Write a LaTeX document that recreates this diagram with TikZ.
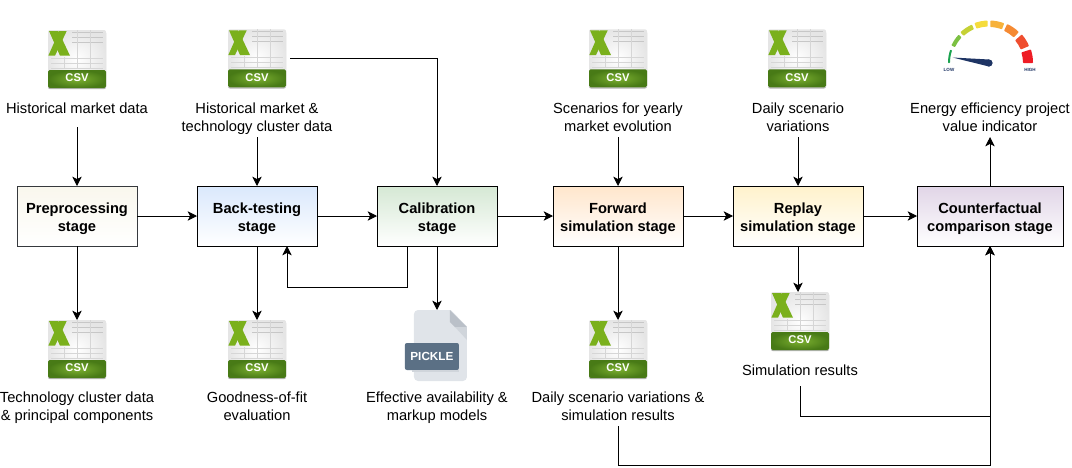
\documentclass[tikz,border=0pt]{standalone}
\usepackage{fontspec}
\setmainfont{Liberation Sans}
\usepackage{xcolor}
\usepackage{tikz}
\usetikzlibrary{
  positioning,
  arrows.meta,
  calc
}
\definecolor{prebg}{RGB}{249,247,237}
\definecolor{preborder}{RGB}{54,57,61}
\definecolor{backbg}{RGB}{218,232,252}
\definecolor{calibbg}{RGB}{213,232,212}
\definecolor{forwardbg}{RGB}{255,230,204}
\definecolor{replaybg}{RGB}{255,242,204}
\definecolor{counterbg}{RGB}{225,213,231}
\definecolor{csvgreen}{RGB}{122,176,28}
\definecolor{bandlight}{RGB}{124,176,48}
\definecolor{banddark}{RGB}{72,122,22}
\definecolor{docbg}{RGB}{224,228,233}
\definecolor{docfold}{RGB}{186,192,200}
\definecolor{docshade}{RGB}{208,213,219}
\definecolor{tagbg}{RGB}{91,112,133}
\definecolor{needlecolor}{RGB}{30,52,100}
\definecolor{gaugea}{RGB}{26,163,79}
\definecolor{gaugeb}{RGB}{124,192,66}
\definecolor{gaugec}{RGB}{197,209,53}
\definecolor{gauged}{RGB}{245,220,60}
\definecolor{gaugee}{RGB}{247,178,59}
\definecolor{gaugef}{RGB}{245,138,51}
\definecolor{gaugeg}{RGB}{239,78,47}
\definecolor{gaugeh}{RGB}{238,28,37}
\newcommand{\csvsheet}[1]{%
  \begin{scope}[shift={(#1.center)}]
    % grid lines of the sheet
    \draw[black!22, line width=0.5pt] (-5,-27) -- (26,-27) (-5,-22) -- (26,-22) (-5,-17) -- (26,-17);
    \draw[black!16, line width=0.5pt] (-26,-1) -- (26,-1) (-26,4) -- (26,4) (-26,9) -- (26,9);
    \draw[black!16, line width=0.5pt] (0,-29) -- (0,10) (13,-29) -- (13,10) (-13,-2) -- (-13,10);
    % the X
    \fill[csvgreen] (-28,-28) -- (-18.7,-28) -- (-7,-3.3) -- (-17,-3.3) -- cycle;
    \fill[csvgreen] (-10.3,-28) -- (-17.7,-28) -- (-28.7,-3.3) -- (-22,-3.3) -- cycle;
    % green band
    \shade[inner color=bandlight, outer color=banddark, rounded corners=1.2pt] (-29,11) rectangle (29,29);
    \node[csvtag] (#1tag) at (0,19) {CSV};
  \end{scope}%
}
\tikzset{
  stagebox/.style={
    draw=black, line width=0.75pt, outer sep=0pt,
    minimum width=90pt, minimum height=45pt,
    font=\fontsize{11}{13.5}\selectfont\bfseries, align=center, inner sep=0pt,
    text height=22.5pt, text depth=0pt
  },
  datatext/.style={
    font=\fontsize{11}{13.5}\selectfont, align=center, outer sep=0pt,
    inner sep=0pt, minimum height=30.75pt,
    text height=21.8pt, text depth=0pt
  },
  singletext/.style={
    datatext, text height=7.5pt
  },
  csvicon/.style={
    minimum size=43.5pt, inner sep=0pt, outer sep=0pt, rounded corners=1.5pt,
    inner color=white, outer color=black!10,
    preaction={fill=black!30, transform canvas={yshift=-0.9pt}}
  },
  csvtag/.style={
    text=white, inner sep=0pt, font=\fontsize{8.4}{9}\selectfont\bfseries
  },
  pickledoc/.style={
    fill=docbg, rounded corners=3pt, inner sep=0pt, outer sep=0pt,
    minimum width=39.75pt, minimum height=53.25pt
  },
  pickletag/.style={
    fill=tagbg, rounded corners=1.5pt, text=white, inner sep=0pt,
    minimum width=40.5pt, minimum height=20.25pt,
    font=\fontsize{8.8}{9}\selectfont\bfseries
  },
  gaugetext/.style={
    text=needlecolor, inner sep=0pt, font=\fontsize{3.4}{4}\selectfont\bfseries
  },
  flowarrow/.style={
    ->, >={Stealth[length=7pt,width=7pt,inset=1.8pt]}, line width=0.75pt, draw=black
  }
}
\begin{document}
\begin{tikzpicture}[x=0.75pt, y=-0.75pt]
    \useasboundingbox (0,0) rectangle (1072,468);

    % Stages
    \node[stagebox, draw=preborder, top color=prebg, bottom color=white] (pre) at (77,216) {Preprocessing\\stage};
    \node[stagebox, top color=backbg, bottom color=white, right=45pt of pre] (back) {Back-testing\\stage};
    \node[stagebox, top color=calibbg, bottom color=white, right=45pt of back] (calib) {Calibration\\stage};
    \node[stagebox, top color=forwardbg, bottom color=white, minimum width=97.5pt, right=42pt of calib] (forward) {Forward\\simulation stage};
    \node[stagebox, top color=replaybg, bottom color=white, minimum width=97.5pt, right=37.5pt of forward] (replay) {Replay\\simulation stage};
    \node[stagebox, top color=counterbg, bottom color=white, minimum width=109.5pt, right=40.5pt of replay] (counter) {Counterfactual\\comparison stage};

    % Inputs above the stages
    \node[singletext, minimum height=28.5pt, above=44.25pt of pre] (histtext) {Historical market data};
    \node[csvicon, above=0.75pt of histtext] (histcsv) {};
    \node[datatext, above=36.75pt of back] (clustertext) {Historical market \&\\technology cluster data};
    \node[csvicon, above=6.5pt of clustertext] (clustercsv) {};
    \node[datatext, above=36.75pt of forward] (yeartext) {Scenarios for yearly\\market evolution};
    \node[csvicon, above=6.5pt of yeartext] (yearcsv) {};
    \node[datatext, above=36.75pt of replay] (daytext) {Daily scenario\\variations};
    \node[csvicon, above=6.5pt of daytext, xshift=-0.75pt] (daycsv) {};
    \node[datatext, above=36.75pt of counter] (valuetext) {Energy efficiency project\\value indicator};

    % Outputs below the stages
    \node[csvicon, below=55.5pt of pre] (comptcsv) {};
    \node[datatext, below=5.5pt of comptcsv] (compttext) {Technology cluster data\\\& principal components};
    \node[csvicon, below=55.5pt of back] (fitcsv) {};
    \node[datatext, below=5.5pt of fitcsv] (fittext) {Goodness-of-fit\\evaluation};
    \node[csvicon, below=55.5pt of forward] (resultcsv) {};
    \node[datatext, below=5.5pt of resultcsv] (resulttext) {Daily scenario variations \&\\simulation results};
    \node[csvicon, below=34.5pt of replay, xshift=1.5pt] (simcsv) {};
    \node[singletext, minimum height=24pt, below=3pt of simcsv] (simtext) {Simulation results};

    % Inside of the CSV icons
    \foreach \icon in {histcsv, clustercsv, yearcsv, daycsv, comptcsv, fitcsv, resultcsv, simcsv} {
      \csvsheet{\icon}
    }

    % Pickle file
    \node[pickledoc, below=48pt of calib, xshift=2.6pt] (pickledoc) {};
    \begin{scope}[shift={(pickledoc.north east)}]
      \fill[white] (-17,-1) -- (1,-1) -- (1,17.5) -- cycle;
      \fill[docfold] (-17,0) -- (0,17) -- (-12,17) -- (-17,12) -- cycle;
      \fill[docshade] (-12,17) -- (0,17) -- (0,30) -- cycle;
    \end{scope}
    \node[pickletag] (picktag) at ([xshift=-6.4pt, yshift=-8.25pt]pickledoc.center) {PICKLE};
    \fill[docshade] (picktag.south west) ++(7,0) rectangle ($(picktag.south east)+(0,2)$);
    \node[datatext] (picktext) at (437,406) {Effective availability \&\\markup models};

    % Gauge
    \begin{scope}[shift={(989,63)}, y=0.75pt]
      \foreach \from/\to/\inner/\outer/\tone in {
        180/161/39/41/gaugea, 155/137/37.5/41.5/gaugeb, 133/114/37/42/gaugec, 110/92/36.5/42.5/gauged,
        88/69/36/42.5/gaugee, 65/46/35.5/43/gaugef, 41/23/34.5/43.5/gaugeg, 18/0/34/44/gaugeh} {
        \fill[\tone, rounded corners=0.5pt] (\from:\outer) arc[start angle=\from, end angle=\to, radius=\outer]
          -- (\to:\inner) arc[start angle=\to, end angle=\from, radius=\inner] -- cycle;
      }
      \fill[needlecolor] (-36.5,5.5) -- (0,-3.5) -- (0,3.5) -- cycle;
      \fill[needlecolor] (0,0) circle[radius=3.6];
    \end{scope}
    \node[gaugetext] (lowtag) at (949,70) {LOW};
    \node[gaugetext] (hightag) at (1030,70) {HIGH};

    % Arrows along the chain
    \draw[flowarrow] (pre) -- (back);
    \draw[flowarrow] (back) -- (calib);
    \draw[flowarrow] (calib) -- (forward);
    \draw[flowarrow] (forward) -- (replay);
    \draw[flowarrow] (replay) -- (counter);

    % Arrows: inputs to stages
    \draw[flowarrow] (histtext.south) -- (pre.north);
    \draw[flowarrow] (clustertext.south) -- (back.north);
    \draw[flowarrow] ([xshift=3pt]clustercsv.east) -| (calib.north);
    \draw[flowarrow] (yeartext.south) -- (forward.north);
    \draw[flowarrow] (daytext.south) -- (replay.north);
    \draw[flowarrow] (counter.north) -- (valuetext.south);

    % Arrows: stages to outputs
    \draw[flowarrow] (pre.south) -- (comptcsv.north);
    \draw[flowarrow] (back.south) -- (fitcsv.north);
    \draw[flowarrow] (calib.south) -- (calib.south |- pickledoc.north);
    \draw[flowarrow] (forward.south) -- (resultcsv.north);
    \draw[flowarrow] (replay.south) -- (replay.south |- simcsv.north);

    % Feedback and result returns
    \draw[flowarrow] ([xshift=-22.5pt]calib.south) -- ++(0,41) -| ([xshift=22.5pt]back.south);
    \draw[flowarrow] (simtext.south) -- ++(0,30) -| (counter.south);
    \draw[flowarrow] (resulttext.south) -- ++(0,39.5) -| (counter.south);

  \end{tikzpicture}
\end{document}
